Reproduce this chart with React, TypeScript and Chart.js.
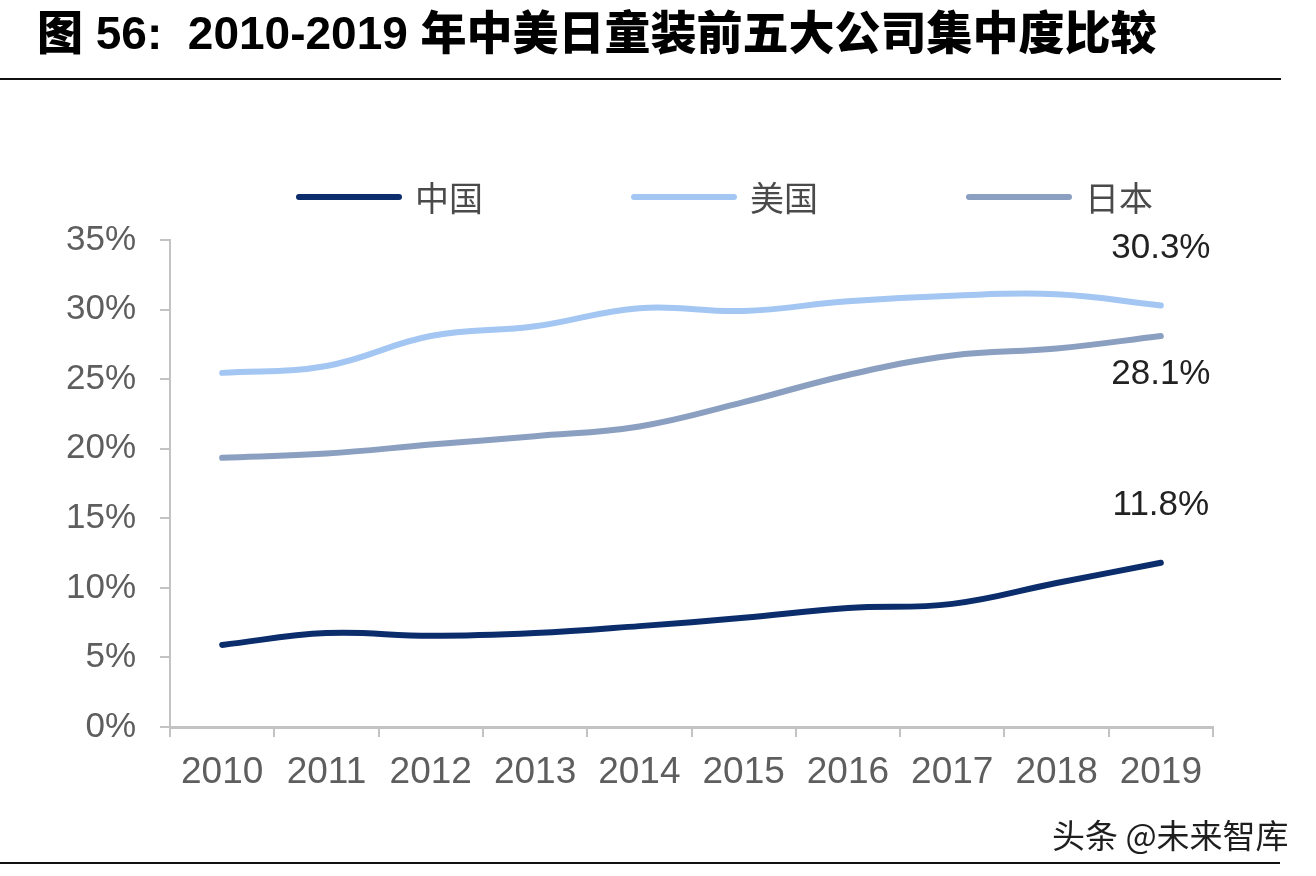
import React, { useEffect, useRef } from "react";
import { Chart, registerables } from "chart.js";

Chart.register(...registerables);

const categories = ["2010", "2011", "2012", "2013", "2014", "2015", "2016", "2017", "2018", "2019"];
const chinaValues = [5.9, 6.75, 6.55, 6.75, 7.25, 7.85, 8.55, 8.85, 10.35, 11.8];
const usValues = [25.45, 25.95, 28.1, 28.8, 30.1, 29.9, 30.6, 31.0, 31.1, 30.3];
const japanValues = [19.35, 19.65, 20.3, 20.9, 21.6, 23.35, 25.3, 26.7, 27.2, 28.1];
const seriesNames = ["中国", "美国", "日本"];
const yMin = 0;
const yMax = 35;
const yStep = 5;

const titleText = "图 56:  2010-2019 年中美日童装前五大公司集中度比较";
const watermarkText = "头条 @未来智库";

const colors = ["#0b2d6c", "#a3c6f3", "#8b9fc0"];
const endLabelOffsets = [-57, -57, 38];

const customLegend = {
  id: "customLegend",
  afterDraw(chart: any, _args: any, opts: any) {
    const ctx = chart.ctx;
    chart.data.datasets.forEach((ds: any, i: number) => {
      const x0 = opts.startX + i * opts.stride;
      ctx.save();
      ctx.strokeStyle = ds.borderColor;
      ctx.lineWidth = opts.lineWidth;
      ctx.lineCap = "round";
      ctx.beginPath();
      ctx.moveTo(x0, opts.y);
      ctx.lineTo(x0 + opts.lineLength, opts.y);
      ctx.stroke();
      ctx.fillStyle = opts.color;
      ctx.font = opts.font;
      ctx.textBaseline = "middle";
      ctx.textAlign = "left";
      ctx.fillText(ds.label, x0 + opts.lineLength + opts.gap, opts.y + 1);
      ctx.restore();
    });
  },
};

const endLabels = {
  id: "endLabels",
  afterDatasetsDraw(chart: any, _args: any, opts: any) {
    const ctx = chart.ctx;
    chart.data.datasets.forEach((ds: any, i: number) => {
      const meta = chart.getDatasetMeta(i);
      const last = meta.data[meta.data.length - 1];
      const v = ds.data[ds.data.length - 1];
      ctx.save();
      ctx.fillStyle = opts.color;
      ctx.font = opts.font;
      ctx.textAlign = "center";
      ctx.textBaseline = "middle";
      ctx.fillText(v.toFixed(1) + "%", last.x, last.y + opts.offsets[i]);
      ctx.restore();
    });
  },
};

export default function App() {
  const canvasRef = useRef<HTMLCanvasElement | null>(null);

  useEffect(() => {
    if (!canvasRef.current) return;
    const seriesData = [chinaValues, usValues, japanValues];
    const chart = new Chart(canvasRef.current, {
      type: "line",
      data: {
        labels: categories,
        datasets: seriesData.map((d, i) => ({
          label: seriesNames[i],
          data: d,
          borderColor: colors[i],
          backgroundColor: colors[i],
          borderWidth: 6,
          borderCapStyle: "round",
          borderJoinStyle: "round",
          pointRadius: 0,
          pointHoverRadius: 0,
          tension: 0.4,
          fill: false,
        })),
      },
      options: {
        animation: false,
        responsive: false,
        maintainAspectRatio: false,
        events: [],
        layout: { padding: { top: 240, right: 103, left: 0, bottom: 0 } },
        plugins: {
          legend: { display: false },
          tooltip: { enabled: false },
          title: { display: false },
          customLegend: {
            startX: 299,
            stride: 335,
            y: 197,
            lineLength: 100,
            lineWidth: 6,
            gap: 16,
            color: "#4a4a4a",
            font: '34px "Noto Sans CJK SC", sans-serif',
          },
          endLabels: {
            offsets: endLabelOffsets,
            color: "#222222",
            font: '35px "Liberation Sans", Arial, sans-serif',
          },
        } as any,
        scales: {
          x: {
            type: "category",
            offset: true,
            afterFit: (scale: any) => {
              scale.height = 876 - 727;
            },
            grid: {
              offset: true,
              drawOnChartArea: false,
              drawTicks: true,
              tickLength: 10,
              color: "#c3c3c3",
              lineWidth: 2,
            },
            border: { display: true, color: "#c3c3c3", width: 3 },
            ticks: {
              color: "#5e5e5e",
              font: { family: '"Liberation Sans", Arial, sans-serif', size: 37 },
              padding: 14,
              maxRotation: 0,
              autoSkip: false,
            },
          },
          y: {
            min: yMin,
            max: yMax,
            afterFit: (scale: any) => {
              scale.width = 170;
            },
            grid: {
              drawOnChartArea: false,
              drawTicks: true,
              tickLength: 10,
              color: "#c3c3c3",
              lineWidth: 2,
            },
            border: { display: true, color: "#c3c3c3", width: 2 },
            ticks: {
              stepSize: yStep,
              color: "#5e5e5e",
              font: { family: '"Liberation Sans", Arial, sans-serif', size: 35 },
              padding: 24,
              callback: (v: any) => v + "%",
            },
          },
        },
      },
      plugins: [customLegend, endLabels],
    });
    return () => chart.destroy();
  }, []);

  return (
    <div
      style={{
        position: "fixed",
        left: 0,
        top: 0,
        width: 1316,
        height: 876,
        background: "#ffffff",
        overflow: "hidden",
      }}
    >
      <canvas
        ref={canvasRef}
        width={1316}
        height={876}
        style={{ position: "absolute", left: 0, top: 0, width: 1316, height: 876 }}
      />
      <div
        style={{
          position: "absolute",
          left: 37,
          top: 10,
          whiteSpace: "pre",
          fontFamily: '"Liberation Sans", "Noto Sans CJK SC", sans-serif',
          fontWeight: 900,
          fontSize: 46,
          lineHeight: "46px",
          color: "#000",
        }}
      >
        {titleText}
      </div>
      <div style={{ position: "absolute", left: 0, top: 78, width: 1281, height: 2, background: "#111" }} />
      <div style={{ position: "absolute", left: 0, top: 862, width: 1280, height: 2, background: "#111" }} />
      <div
        style={{
          position: "absolute",
          left: 1052,
          top: 818,
          whiteSpace: "pre",
          fontFamily: '"Noto Sans CJK SC", sans-serif',
          fontSize: 33,
          lineHeight: "33px",
          color: "#1e1e1e",
        }}
      >
        {watermarkText}
      </div>
    </div>
  );
}
